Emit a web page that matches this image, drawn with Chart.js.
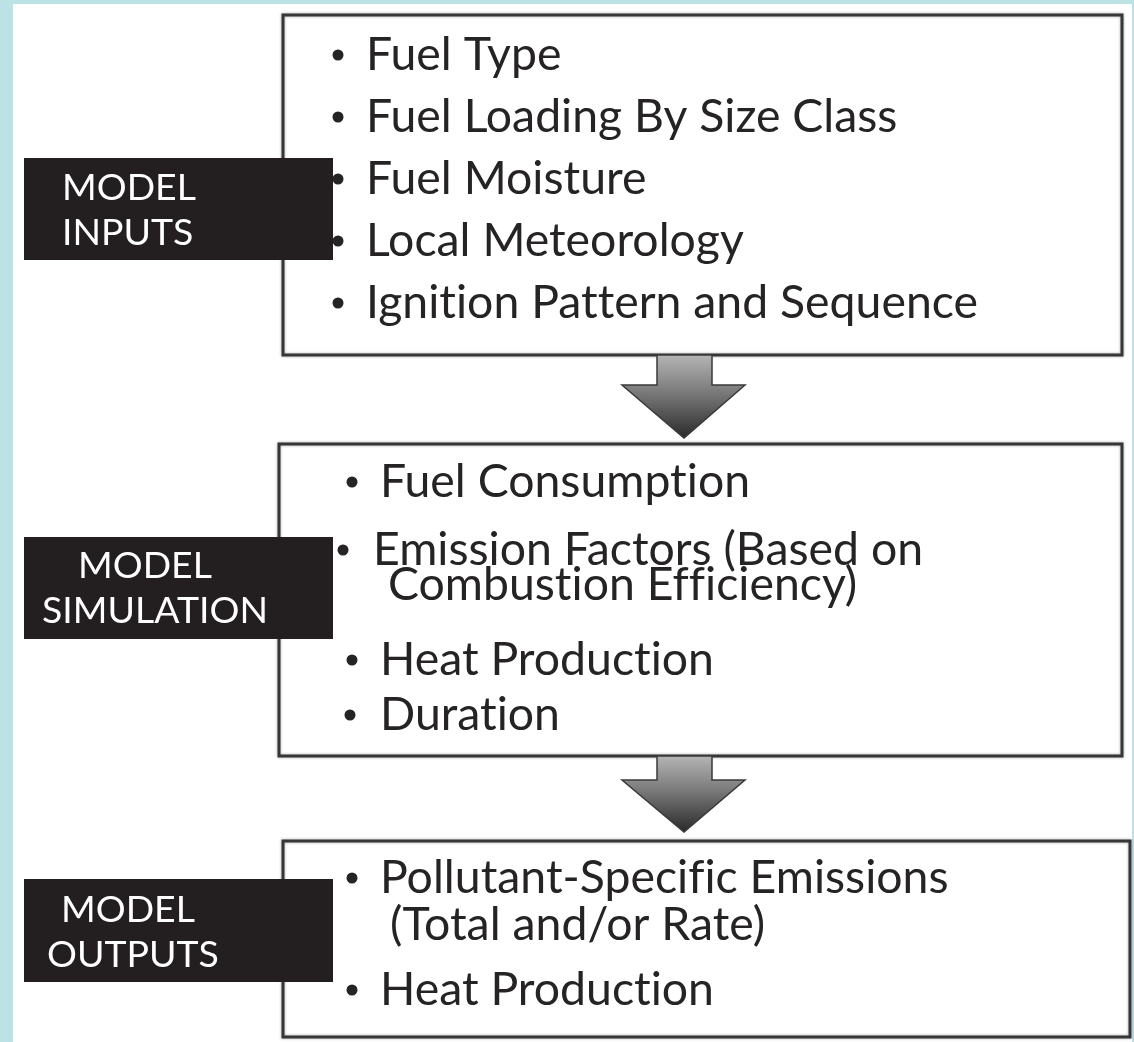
<!DOCTYPE html>
<html>
<head>
<meta charset="utf-8">
<script src="https://cdn.jsdelivr.net/npm/chart.js@4/dist/chart.umd.min.js"></script>
<style>
  html, body { margin: 0; padding: 0; background: #bce2e5; }
  canvas { display: block; }
</style>
</head>
<body>
<canvas id="flowChart" width="1134" height="1042"></canvas>
<script>
// stage names (black tabs) and the bullet items of each stage
var stageLabels = [
    ["MODEL", "INPUTS"],
    ["MODEL", "SIMULATION"],
    ["MODEL", "OUTPUTS"]
];
var inputItems = [
    "Fuel Type",
    "Fuel Loading By Size Class",
    "Fuel Moisture",
    "Local Meteorology",
    "Ignition Pattern and Sequence"
];
var simulationItems = [
    "Fuel Consumption",
    ["Emission Factors (Based on", "Combustion Efficiency)"],
    "Heat Production",
    "Duration"
];
var outputItems = [
    ["Pollutant-Specific Emissions", "(Total and/or Rate)"],
    "Heat Production"
];
var stageItems = [inputItems, simulationItems, outputItems];

// layout, in page units (x 0..1134, y 0..1042)
var boxes = [
    { x0: 283, y0: 15,  x1: 1122, y1: 355 },
    { x0: 279, y0: 444, x1: 1122, y1: 756 },
    { x0: 283, y0: 841, x1: 1130, y1: 1037 }
];
var tabs = [
    { x0: 24, y0: 158, x1: 333, y1: 260, lines: [[62, 200], [62, 245]] },
    { x0: 24, y0: 537, x1: 333, y1: 639, lines: [[78, 578], [42, 623]] },
    { x0: 24, y0: 879, x1: 333, y1: 982, lines: [[61, 922], [47, 967]] }
];
// [bulletX, textX, baseline] per item, extra lines: [textX, baseline]
var itemPos = [
    [[338, 366, 70], [338, 366, 132], [338, 366, 194], [338, 366, 256], [338, 366, 318]],
    [[352, 380, 497], [343, 373, 565, 388, 600], [352, 380, 675], [350, 380, 730]],
    [[352, 380, 893, 390, 940], [352, 380, 1005]]
];
var arrows = [
    { top: 355, neck: 385, tip: 438 },
    { top: 756, neck: 780, tip: 832 }
];

var FONT = 'Lato, "Open Sans", sans-serif';

var diagramPlugin = {
    id: 'diagram',
    beforeDraw: function (chart) {
        var c = chart.ctx;
        var sx = chart.scales.x, sy = chart.scales.y;
        function X(v) { return sx.getPixelForValue(v); }
        function Y(v) { return sy.getPixelForValue(v); }

        // backdrop
        c.save();
        c.fillStyle = '#bce2e5';
        c.fillRect(0, 0, chart.width, chart.height);
        c.fillStyle = '#ffffff';
        c.fillRect(X(13), Y(4), X(1132) - X(13), Y(1042) - Y(4));

        // no "ti" / "fi" ligatures, like the original
        if ('letterSpacing' in c) c.letterSpacing = '0.01px';

        // fit font sizes to the reference widths
        c.font = '100px ' + FONT;
        var itemSize = 100 * 612 / c.measureText('Ignition Pattern and Sequence').width;
        var tabSize = 100 * 226 / c.measureText('SIMULATION').width;

        // outlined boxes
        boxes.forEach(function (b) {
            c.save();
            c.shadowColor = 'rgba(0,0,0,0.35)';
            c.shadowBlur = 3;
            c.strokeStyle = '#363636';
            c.lineWidth = 3;
            c.strokeRect(X(b.x0), Y(b.y0), X(b.x1) - X(b.x0), Y(b.y1) - Y(b.y0));
            c.restore();
        });

        // arrows between boxes
        arrows.forEach(function (a) {
            var g = c.createLinearGradient(0, Y(a.top), 0, Y(a.tip));
            g.addColorStop(0, '#b4b4b4');
            g.addColorStop(0.45, '#7a7a7a');
            g.addColorStop(1, '#2a2a2a');
            c.beginPath();
            c.moveTo(X(657), Y(a.top));
            c.lineTo(X(712), Y(a.top));
            c.lineTo(X(712), Y(a.neck));
            c.lineTo(X(745), Y(a.neck));
            c.lineTo(X(684), Y(a.tip));
            c.lineTo(X(622), Y(a.neck));
            c.lineTo(X(657), Y(a.neck));
            c.closePath();
            c.fillStyle = g;
            c.fill();
            c.strokeStyle = '#3a3a3a';
            c.lineWidth = 1.5;
            c.stroke();
        });

        // bullet items
        c.fillStyle = '#262324';
        c.textBaseline = 'alphabetic';
        c.textAlign = 'left';
        c.font = itemSize + 'px ' + FONT;
        stageItems.forEach(function (items, s) {
            items.forEach(function (item, i) {
                var p = itemPos[s][i];
                var lines = Array.isArray(item) ? item : [item];
                c.beginPath();
                c.arc(X(p[0]), Y(p[2]) - 15, 5.5, 0, Math.PI * 2);
                c.fill();
                c.fillText(lines[0], X(p[1]), Y(p[2]));
                if (lines[1]) c.fillText(lines[1], X(p[3]), Y(p[4]));
            });
        });

        // black tabs on top
        tabs.forEach(function (t, s) {
            c.fillStyle = '#231f20';
            c.fillRect(X(t.x0), Y(t.y0), X(t.x1) - X(t.x0), Y(t.y1) - Y(t.y0));
            c.fillStyle = '#ffffff';
            c.font = tabSize + 'px ' + FONT;
            stageLabels[s].forEach(function (txt, k) {
                c.fillText(txt, X(t.lines[k][0]), Y(t.lines[k][1]));
            });
        });
        c.restore();
    }
};

var ctx = document.getElementById('flowChart').getContext('2d');

var flowChart = new Chart(ctx, {
    type: 'scatter',
    data: {
        datasets: [{ data: [], pointRadius: 0 }]
    },
    options: {
        responsive: false,
        animation: false,
        layout: { padding: 0 },
        plugins: {
            legend: { display: false },
            tooltip: { enabled: false }
        },
        scales: {
            x: { type: 'linear', min: 0, max: 1134, display: false },
            y: { type: 'linear', min: 0, max: 1042, reverse: true, display: false }
        }
    },
    plugins: [diagramPlugin]
});
</script>
</body>
</html>
